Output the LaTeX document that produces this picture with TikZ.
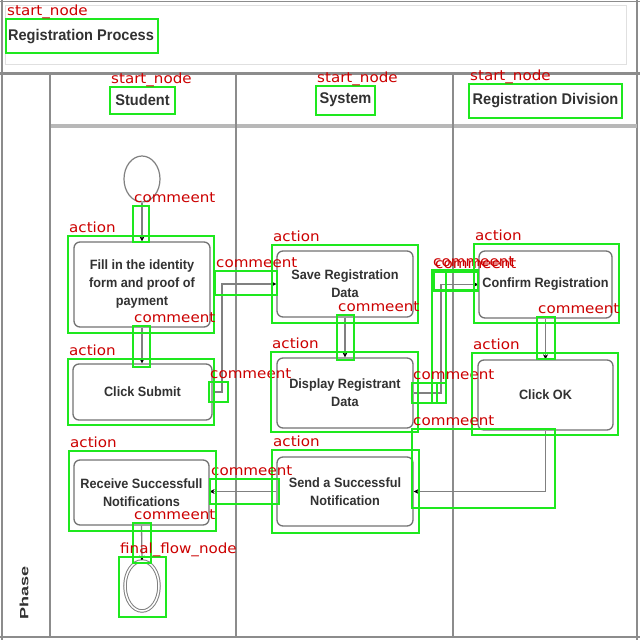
\documentclass[tikz,border=0pt]{standalone}
\usepackage{fontspec}
\usepackage{graphicx}
\setmainfont{Liberation Sans}
\newfontfamily\dfont[FakeStretch=0.94]{Liberation Sans}
\newfontfamily\lblfont[FakeStretch=1.08]{DejaVu Sans}
\usetikzlibrary{shapes.geometric,arrows.meta}
\definecolor{gboxc}{RGB}{30,232,30}
\definecolor{lblc}{RGB}{204,0,0}
\definecolor{lanec}{RGB}{140,140,140}
\definecolor{txtc}{RGB}{50,50,50}
\newcommand\annot[6]{%
  \node[gbox, minimum width={#4-#2}, minimum height={#5-#3}] (#1) at ({(#2+#4)/2},{(#3+#5)/2}) {};
  \node[lbl] (#1l) at ([xshift=1pt,yshift=4pt]#1.north west) {#6};}
\begin{document}
\begin{tikzpicture}[x=1pt,y=-1pt,
  gbox/.style={draw=gboxc,line width=2pt,inner sep=0pt,outer sep=0pt},
  lbl/.style={text=lblc,font=\lblfont\fontsize{14}{14}\selectfont,anchor=base west,inner sep=0pt},
  act/.style={draw=black!55,line width=1.3pt,rounded corners=6pt,fill=white,align=center,text=txtc,font=\dfont\bfseries\fontsize{13.5}{18}\selectfont,inner sep=0pt},
  hdr/.style={text=txtc,font=\dfont\bfseries\fontsize{15.5}{18}\selectfont,inner sep=0pt},
  lane/.style={draw=lanec,line width=1.5pt},
  flow/.style={draw=black!50,line width=1.3pt,-{Stealth[length=5pt,width=5pt,color=black]}},
]
\fill[white] (0,0) rectangle (640,640);
\useasboundingbox (0,0) rectangle (640,640);
% swimlane frame
\draw[black!12,line width=0.8pt] (5,5) rectangle (626,64);
\draw[lane] (0,1.5) -- (640,1.5);
\draw[lane] (2,0) -- (2,640);
\draw[lane] (637,0) -- (637,640);
\draw[lane,line width=3pt] (0,73) -- (640,73);
\draw[draw=black!28,line width=4pt] (50,126) -- (637,126);
\draw[lane] (50,73) -- (50,638);
\draw[lane] (236,73) -- (236,638);
\draw[lane] (453,73) -- (453,638);
\draw[lane,line width=2.5pt] (0,637) -- (640,637);
% headers
\node[hdr] (title) at (81,37) {Registration Process};
\node[hdr] (stu) at (142.5,100) {Student};
\node[hdr] (sys) at (345.5,100) {System};
\node[hdr] (reg) at (545.5,101) {Registration Division};
\node[rotate=90,text=txtc,font=\dfont\bfseries\fontsize{12}{12}\selectfont,inner sep=0pt] (phase) at (24,593) {\scalebox{1.6}[1]{Phase}};
% nodes
\node[ellipse,draw=black!50,line width=1.2pt,minimum width=36pt,minimum height=46pt,inner sep=0pt] (start) at (142,179) {};
\node[act,minimum width=136pt,minimum height=85pt] (a1) at (142,284.5) {Fill in the identity\\form and proof of\\payment};
\node[act,minimum width=139pt,minimum height=56pt] (a2) at (142.5,392) {Click Submit};
\node[act,minimum width=136pt,minimum height=66pt] (a3) at (345,284) {Save Registration\\Data};
\node[act,minimum width=136pt,minimum height=70pt] (a4) at (345,393) {Display Registrant\\Data};
\node[act,minimum width=133pt,minimum height=67pt] (a5) at (545.5,284.5) {Confirm Registration};
\node[act,minimum width=135pt,minimum height=70pt] (a6) at (545.5,395) {Click OK};
\node[act,minimum width=136pt,minimum height=69pt] (a7) at (345,491.5) {Send a Successful\\Notification};
\node[act,minimum width=135pt,minimum height=65pt] (a8) at (141.5,492.5) {Receive Successfull\\Notifications};
\node[ellipse,draw=black!50,line width=1pt,double,double distance=1.5pt,minimum width=34pt,minimum height=50pt,inner sep=0pt] (final) at (142,586) {};
% flows
\coordinate (k1) at (222,284);
\coordinate (k2) at (441,284.5);
\coordinate (k3) at (545.5,491.5);
\draw[flow] (start.south) -- (a1.north);
\draw[flow] (a1.south) -- (a1.south |- a2.north);
\draw[flow] (a2.east) -| (k1) -- (a3.west);
\draw[flow] (a3.south) -- (a4.north);
\draw[flow] (a4.east) -| (k2) -- (a5.west);
\draw[flow] (a5.south) -- (a5.south |- a6.north);
\draw[flow] (a6.south) -- (k3) -- (a7.east);
\draw[flow] (a7.west) -- (a7.west -| a8.east);
\draw[flow] (a8.south) -- (final.north);
% annotations
\annot{gt}{6}{19}{158}{53}{start\_node}
\annot{gs}{110}{87}{175}{114}{start\_node}
\annot{gy}{316}{86}{375}{115}{start\_node}
\annot{gr}{469}{84}{622}{118}{start\_node}
\annot{c1}{133}{206}{149}{242}{commeent}
\annot{g1}{68}{236}{214}{333}{action}
\annot{c2}{133}{326}{150}{367}{commeent}
\annot{g2}{68}{359}{214}{425}{action}
\annot{c3}{209}{382}{228}{402}{commeent}
\annot{c4}{215}{271}{277}{295}{commeent}
\annot{g3}{272}{245}{418}{323}{action}
\annot{c5}{337}{315}{354}{360}{commeent}
\annot{g4}{271}{352}{418}{432}{action}
\annot{c6}{432}{270}{478}{290}{commeent}
\annot{c7}{434}{272}{478}{291}{commeent}
\annot{c8}{432}{270}{446}{403}{}
\annot{c9}{412}{383}{446}{403}{commeent}
\annot{c10}{412}{383}{437}{403}{}
\annot{g5}{474}{244}{619}{323}{action}
\annot{c11}{537}{317}{555}{359}{commeent}
\annot{g6}{472}{353}{618}{435}{action}
\annot{c12}{412}{429}{555}{508}{commeent}
\annot{g7}{272}{450}{419}{533}{action}
\annot{c13}{210}{479}{279}{504}{commeent}
\annot{g8}{69}{451}{216}{531}{action}
\annot{c14}{133}{523}{151}{563}{commeent}
\annot{gf}{119}{557}{166}{617}{final\_flow\_node}
\end{tikzpicture}
\end{document}
